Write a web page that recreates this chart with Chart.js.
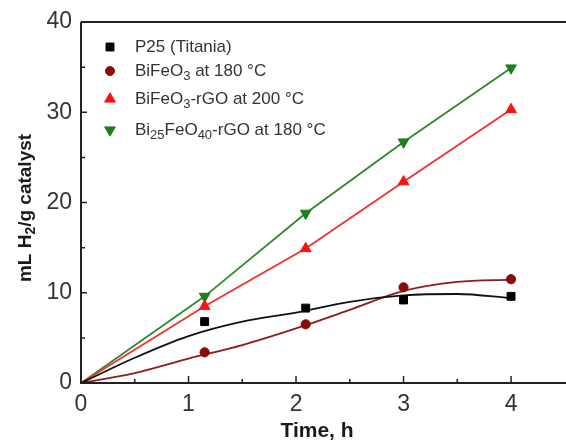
<!DOCTYPE html>
<html>
<head>
<meta charset="utf-8">
<script src="https://cdn.jsdelivr.net/npm/chart.js@4.4.1/dist/chart.umd.min.js"></script>
<style>
  html, body { margin: 0; padding: 0; background: #fff; overflow: hidden; }
  #wrap { width: 572px; height: 443px; }
</style>
</head>
<body>
<div id="wrap"><canvas id="h2Chart" width="572" height="443"></canvas></div>
<script>
// measured points (time in h, mL H2 / g catalyst)
const sampleTimes = [1.15, 2.09, 3.0, 4.0];
const p25 = [6.8, 8.3, 9.2, 9.6];
const bifeo3 = [3.4, 6.5, 10.6, 11.5];
const bifeo3Rgo = [8.5, 14.9, 22.3, 30.3];
const bi25Rgo = [9.6, 18.8, 26.7, 34.9];

// fitted curves
const fitTimes = [0, 0.5, 1, 1.5, 2, 2.5, 3, 3.5, 4];
const p25Fit = [0, 2.8, 5.2, 6.8, 7.8, 9.0, 9.7, 9.86, 9.4];
const bifeo3Fit = [0, 1.1, 2.7, 4.2, 6.05, 8.1, 10.2, 11.2, 11.45];
const lineTimes = [0, 1.15, 2.09, 3.0, 4.0];
const bifeo3RgoFit = [0, 8.5, 14.9, 22.3, 30.3];
const bi25RgoFit = [0, 9.6, 18.8, 26.7, 34.9];

const xTicks = [0, 1, 2, 3, 4];
const yTicks = [0, 10, 20, 30, 40];
const xMinor = [0.5, 1.5, 2.5, 3.5];
const yMinor = [5, 15, 25, 35];

const colBlack = '#000000';
const colDarkRed = '#8b0a0a';
const colRed = '#ff1010';
const colGreen = '#1e7f1e';

const toXY = (xs, ys) => xs.map((x, i) => ({ x: x, y: ys[i] }));

// legend rows: parts are [text, isSubscript]
const legendRows = [
  { style: 'rect', rot: 0, radius: 5.6, color: colBlack, y: 47, parts: [['P25 (Titania)', false]] },
  { style: 'circle', rot: 0, radius: 4.5, color: colDarkRed, y: 71, parts: [['BiFeO', false], ['3', true], [' at 180 °C', false]] },
  { style: 'triangle', rot: 0, radius: 6.2, color: colRed, y: 99, parts: [['BiFeO', false], ['3', true], ['-rGO at 200 °C', false]] },
  { style: 'triangle', rot: 180, radius: 6.2, color: colGreen, y: 130, parts: [['Bi', false], ['25', true], ['FeO', false], ['40', true], ['-rGO at 180 °C', false]] }
];

function drawParts(ctx, parts, x, y, size, subSize, subShift, weight) {
  let cx = x;
  parts.forEach(p => {
    ctx.font = weight + ' ' + (p[1] ? subSize : size) + 'px "Liberation Sans", Arial, sans-serif';
    ctx.fillText(p[0], cx, y + (p[1] ? subShift : 0));
    cx += ctx.measureText(p[0]).width;
  });
  return cx - x;
}

function partsWidth(ctx, parts, size, subSize, weight) {
  let w = 0;
  parts.forEach(p => {
    ctx.font = weight + ' ' + (p[1] ? subSize : size) + 'px "Liberation Sans", Arial, sans-serif';
    w += ctx.measureText(p[0]).width;
  });
  return w;
}

const framePlugin = {
  id: 'frame',
  afterDraw(chart) {
    const ctx = chart.ctx;
    const a = chart.chartArea;
    const xs = chart.scales.x;
    const ys = chart.scales.y;
    ctx.save();
    ctx.strokeStyle = '#222';
    ctx.lineWidth = 2;
    ctx.beginPath();
    ctx.moveTo(a.left, a.top);
    ctx.lineTo(a.left, a.bottom);
    ctx.lineTo(chart.width, a.bottom);
    ctx.moveTo(a.left, a.top);
    ctx.lineTo(chart.width, a.top);
    ctx.stroke();

    // inward ticks
    ctx.lineWidth = 1.5;
    ctx.beginPath();
    xTicks.forEach(v => { const px = xs.getPixelForValue(v); ctx.moveTo(px, a.bottom); ctx.lineTo(px, a.bottom - 7); });
    xMinor.forEach(v => { const px = xs.getPixelForValue(v); ctx.moveTo(px, a.bottom); ctx.lineTo(px, a.bottom - 4); });
    yTicks.forEach(v => { const py = ys.getPixelForValue(v); ctx.moveTo(a.left, py); ctx.lineTo(a.left + 6, py); });
    yMinor.forEach(v => { const py = ys.getPixelForValue(v); ctx.moveTo(a.left, py); ctx.lineTo(a.left + 4, py); });
    ctx.stroke();

    // axis titles
    ctx.fillStyle = '#1a1a1a';
    ctx.textBaseline = 'middle';
    ctx.textAlign = 'left';
    ctx.font = 'bold 21px "Liberation Sans", Arial, sans-serif';
    const tw = ctx.measureText('Time, h').width;
    ctx.fillText('Time, h', 317 - tw / 2, 431);

    const yParts = [['mL H', false], ['2', true], ['/g catalyst', false]];
    const yw = partsWidth(ctx, yParts, 19, 14, 'bold');
    ctx.translate(26, 208);
    ctx.rotate(-Math.PI / 2);
    drawParts(ctx, yParts, -yw / 2, 0, 19, 14, 5, 'bold');
    ctx.setTransform(1, 0, 0, 1, 0, 0);

    // legend
    legendRows.forEach(r => {
      ctx.fillStyle = r.color;
      ctx.strokeStyle = r.color;
      ctx.lineWidth = 1;
      Chart.helpers.drawPoint(ctx, { pointStyle: r.style, rotation: r.rot, radius: r.radius, borderWidth: 1 }, 110, r.y);
      ctx.fillStyle = '#333';
      ctx.textBaseline = 'middle';
      drawParts(ctx, r.parts, 135, r.y, 17, 13, 5, 'normal');
    });
    ctx.restore();
  }
};

function markerSet(label, data, color, style, radius, rot) {
  return {
    label: label, data: toXY(sampleTimes, data), showLine: false, order: 0,
    pointStyle: style, pointRadius: radius, pointRotation: rot || 0,
    backgroundColor: color, borderColor: color, borderWidth: 1
  };
}

function fitSet(xsArr, data, color, smooth) {
  return {
    data: toXY(xsArr, data), showLine: true, order: 1, pointRadius: 0,
    borderColor: color, borderWidth: 1.8, fill: false,
    cubicInterpolationMode: smooth ? 'monotone' : 'default', tension: smooth ? 0.4 : 0
  };
}

new Chart(document.getElementById('h2Chart'), {
  type: 'scatter',
  data: {
    datasets: [
      markerSet('P25 (Titania)', p25, colBlack, 'rect', 5.6),
      markerSet('BiFeO3 at 180 °C', bifeo3, colDarkRed, 'circle', 4.6),
      markerSet('BiFeO3-rGO at 200 °C', bifeo3Rgo, colRed, 'triangle', 6.2),
      markerSet('Bi25FeO40-rGO at 180 °C', bi25Rgo, colGreen, 'triangle', 6.2, 180),
      fitSet(fitTimes, p25Fit, '#111111', true),
      fitSet(fitTimes, bifeo3Fit, '#8e1c1c', true),
      fitSet(lineTimes, bifeo3RgoFit, '#f03030', false),
      fitSet(lineTimes, bi25RgoFit, '#2a8a2a', false)
    ]
  },
  options: {
    responsive: false,
    animation: false,
    layout: { padding: { top: 22, right: 3, left: 0, bottom: 0 } },
    plugins: { legend: { display: false }, tooltip: { enabled: false } },
    scales: {
      x: {
        type: 'linear', min: 0, max: 4.5,
        afterFit: s => { s.height = 60; s.paddingLeft = 0; s.paddingRight = 0; },
        afterBuildTicks: s => { s.ticks = xTicks.map(v => ({ value: v })); },
        grid: { display: false, drawTicks: false },
        border: { display: false },
        ticks: { padding: 8, color: '#333', font: { family: '"Liberation Sans", Arial, sans-serif', size: 23 } }
      },
      y: {
        type: 'linear', min: 0, max: 40,
        afterFit: s => { s.width = 81; s.paddingTop = 0; s.paddingBottom = 0; },
        afterBuildTicks: s => { s.ticks = yTicks.map(v => ({ value: v })); },
        grid: { display: false, drawTicks: false },
        border: { display: false },
        ticks: { padding: 9, color: '#333', font: { family: '"Liberation Sans", Arial, sans-serif', size: 23 } }
      }
    }
  },
  plugins: [framePlugin]
});
</script>
</body>
</html>
